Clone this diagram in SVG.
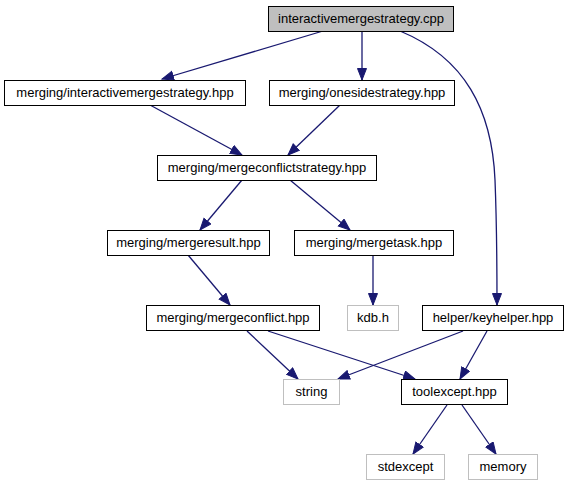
<svg xmlns="http://www.w3.org/2000/svg" width="568" height="485" viewBox="0 0 568 485">
<style>
.n rect{fill:#fff;stroke:#000;stroke-width:1}
.g rect{fill:#fff;stroke:#bfbfbf;stroke-width:1}
.root rect{fill:#bfbfbf;stroke:#000}
text{font-family:"Liberation Sans",Arial,sans-serif;font-size:13px;fill:#000;text-anchor:middle}
.e path{fill:none;stroke:#191970;stroke-width:1.3}
</style>
<defs>
<marker id="a" markerUnits="userSpaceOnUse" markerWidth="14" markerHeight="12" refX="12" refY="5" orient="auto" viewBox="0 0 14 12">
<path d="M0.5,0.5 L12,5 L0.5,9.5 Z" fill="#191970" stroke="#191970"/>
</marker>
</defs>
<rect width="568" height="485" fill="#fff"/>
<g class="e">
<path d="M323,31 L162,79" marker-end="url(#a)"/>
<path d="M362,31 L362,80" marker-end="url(#a)"/>
<path d="M400,31 C465,58 492,110 495,180 C497,230 497,270 497,305" marker-end="url(#a)"/>
<path d="M150,105 L242,155" marker-end="url(#a)"/>
<path d="M340,105 L288,155" marker-end="url(#a)"/>
<path d="M242,180 L200,230" marker-end="url(#a)"/>
<path d="M290,180 L350,230" marker-end="url(#a)"/>
<path d="M373,255 L373,305" marker-end="url(#a)"/>
<path d="M188,255 L230,305" marker-end="url(#a)"/>
<path d="M247,331 L298,379" marker-end="url(#a)"/>
<path d="M268,331 L415,379" marker-end="url(#a)"/>
<path d="M463,331 L338,379" marker-end="url(#a)"/>
<path d="M487,331 L460,379" marker-end="url(#a)"/>
<path d="M447,405 L413,454" marker-end="url(#a)"/>
<path d="M462,405 L496,454" marker-end="url(#a)"/>
</g>
<g id="n1" class="n root"><rect x="268.5" y="6.5" width="185" height="25"/><text x="361" y="23">interactivemergestrategy.cpp</text></g>
<g id="n2" class="n"><rect x="4.5" y="80.5" width="241" height="25"/><text x="125" y="97">merging/interactivemergestrategy.hpp</text></g>
<g id="n3" class="n"><rect x="269.5" y="80.5" width="185" height="25"/><text x="362" y="97">merging/onesidestrategy.hpp</text></g>
<g id="n4" class="n"><rect x="157.5" y="155.5" width="219" height="25"/><text x="267" y="172">merging/mergeconflictstrategy.hpp</text></g>
<g id="n5" class="n"><rect x="107.5" y="230.5" width="162" height="25"/><text x="188.5" y="247">merging/mergeresult.hpp</text></g>
<g id="n6" class="n"><rect x="294.5" y="230.5" width="159" height="25"/><text x="374" y="247">merging/mergetask.hpp</text></g>
<g id="n7" class="g"><rect x="347.5" y="305.5" width="51" height="25"/><text x="373" y="322">kdb.h</text></g>
<g id="n8" class="n"><rect x="146.5" y="305.5" width="173" height="25"/><text x="233" y="322">merging/mergeconflict.hpp</text></g>
<g id="n9" class="n"><rect x="422.5" y="305.5" width="141" height="25"/><text x="493" y="322">helper/keyhelper.hpp</text></g>
<g id="n10" class="g"><rect x="283.5" y="379.5" width="56" height="25"/><text x="311.5" y="396">string</text></g>
<g id="n11" class="n"><rect x="401.5" y="379.5" width="106" height="25"/><text x="454.5" y="396">toolexcept.hpp</text></g>
<g id="n12" class="g"><rect x="366.5" y="454.5" width="78" height="25"/><text x="405.5" y="471">stdexcept</text></g>
<g id="n13" class="g"><rect x="468.5" y="454.5" width="69" height="25"/><text x="503" y="471">memory</text></g>
</svg>
